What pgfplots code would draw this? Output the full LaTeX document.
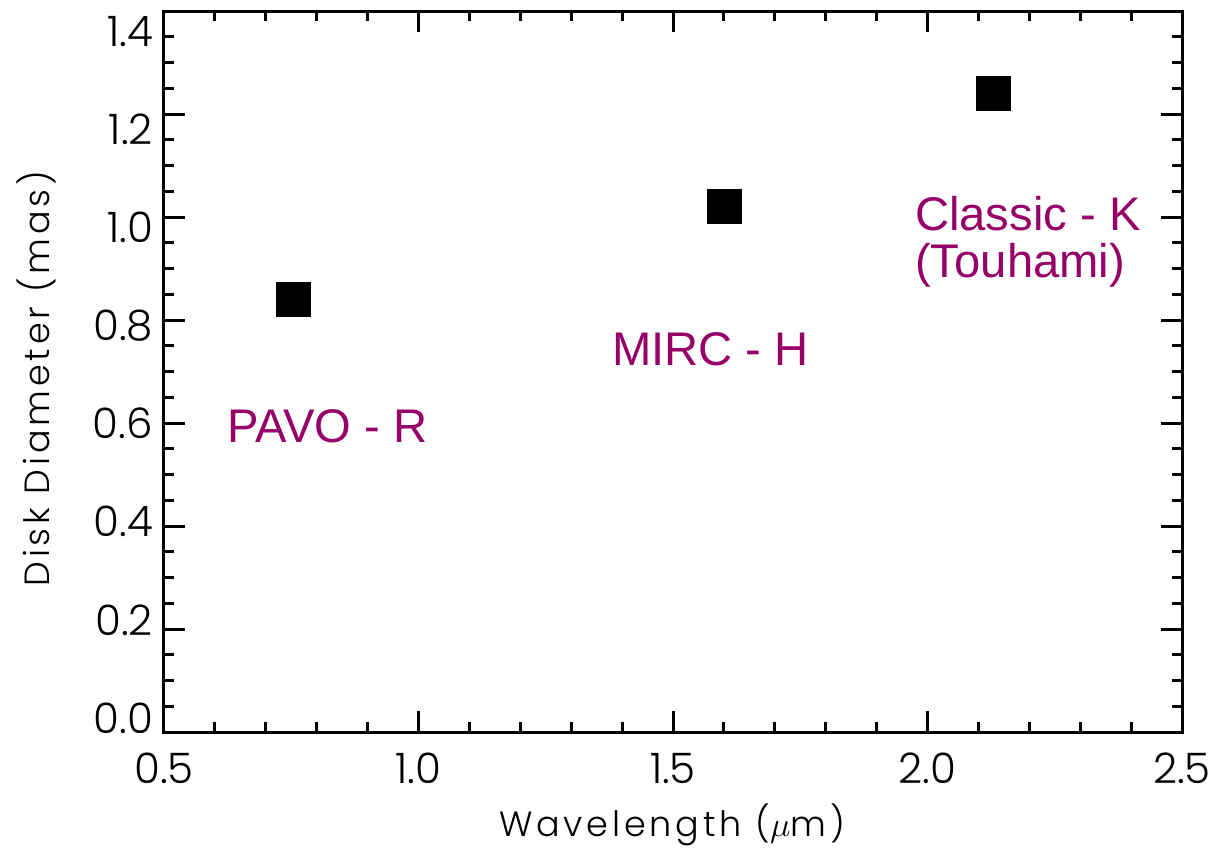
\documentclass[border=0pt]{standalone}
\usepackage{pgfplots}
\pgfplotsset{compat=1.18}
\usepackage{fontspec}
\setmainfont{Liberation Sans}
\newfontfamily\axisfont{Poppins Light}
\newfontfamily\axislabelfont[LetterSpace=11]{Poppins Light}
\definecolor{labelpurple}{RGB}{150,0,105}

\begin{document}
\begin{tikzpicture}
\useasboundingbox (-82pt,-66pt) rectangle (528.5pt,366pt);
\begin{axis}[
  at={(0,0)}, anchor=south west,
  scale only axis,
  width=509pt, height=360.5pt,
  xmin=0.5, xmax=2.5,
  ymin=0, ymax=1.4,
  xtick={0.5,1.0,1.5,2.0,2.5},
  ytick={0,0.2,0.4,0.6,0.8,1.0,1.2,1.4},
  minor x tick num=4,
  minor y tick num=3,
  tick align=inside,
  major tick length=10.5pt,
  minor tick length=5pt,
  axis line style={line width=1.5pt},
  every tick/.style={line width=1.5pt, black},
  xticklabel style={/pgf/number format/fixed, /pgf/number format/fixed zerofill, /pgf/number format/precision=1},
  /pgf/number format/assume math mode=true,
  ticklabel style={font=\axisfont\fontsize{21}{24}\selectfont},
  xticklabel style={yshift=-7pt},
  yticklabel style={xshift=-2pt},
  % y labels sit on a slightly tighter spacing than their ticks
  yticklabel={\pgfmathsetmacro\off{7-12.25*\tick}\raisebox{\off pt}[\height][\depth]{\pgfmathprintnumber[fixed,fixed zerofill,precision=1,assume math mode=true]{\tick}}},
  xlabel={Wavelength ($\mu$m)},
  ylabel={Disk Diameter (mas)},
  label style={font=\axislabelfont\fontsize{17.5}{20}\selectfont},
  xlabel style={at={(axis description cs:0.499,-0.1456)}, anchor=base},
  ylabel style={at={(axis description cs:-0.1257,0.49)}, anchor=center},
]
% measured uniform disk diameters per instrument band
\addplot[only marks, mark=square*, mark size=8.5pt, mark options={fill=black, draw=black, line width=0.3pt}]
  coordinates {(0.755,0.84) (1.60,1.02) (2.13,1.24)};

\node[anchor=base west, inner sep=0, text=labelpurple, font=\fontsize{23.6}{27}\selectfont]
  at (axis cs:0.624,0.562) {PAVO - R};
\node[anchor=base west, inner sep=0, text=labelpurple, font=\fontsize{23.6}{27}\selectfont]
  at (axis cs:1.380,0.711) {MIRC - H};
\node[anchor=base west, inner sep=0, text=labelpurple, font=\fontsize{23.6}{27}\selectfont]
  at (axis cs:1.975,0.973) {Classic - K};
\node[anchor=base west, inner sep=0, text=labelpurple, font=\fontsize{23.6}{27}\selectfont]
  at (axis cs:1.975,0.882) {(Touhami)};
\end{axis}
\end{tikzpicture}
\end{document}
